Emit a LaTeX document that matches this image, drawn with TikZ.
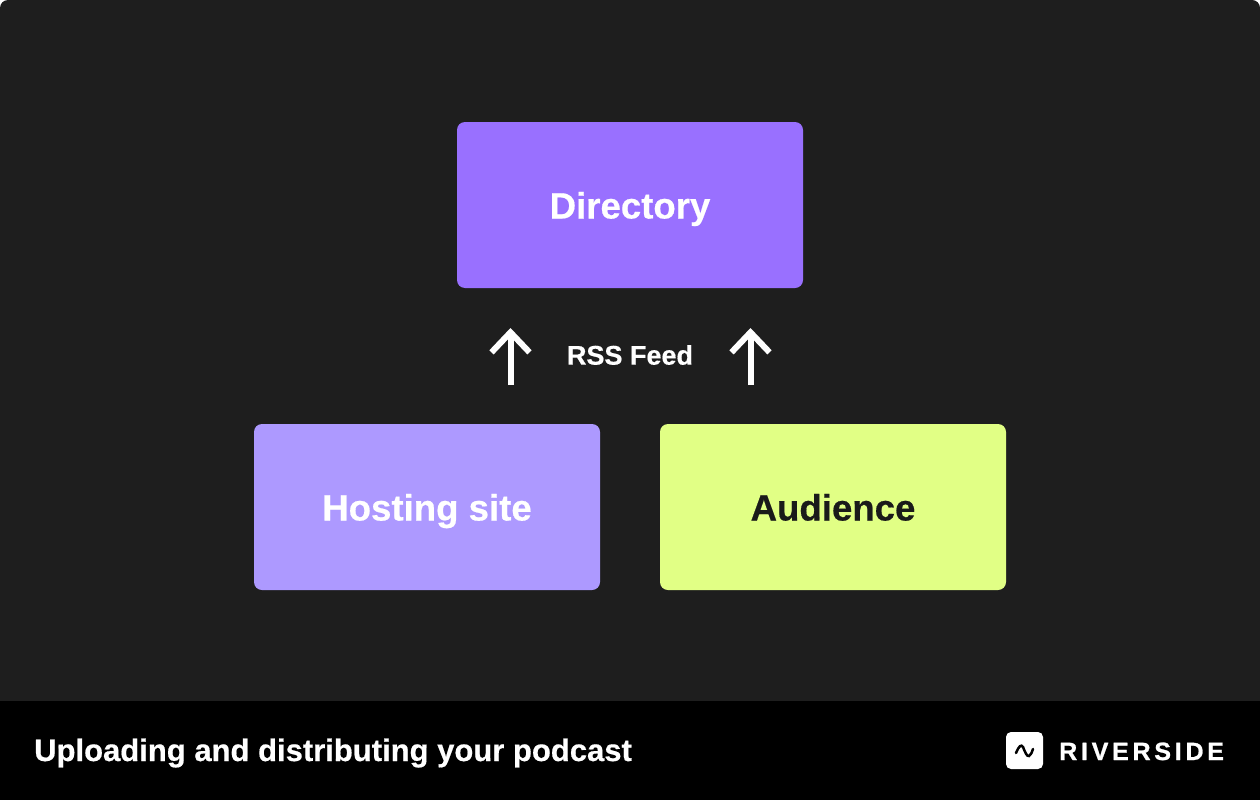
\documentclass[tikz,border=0pt]{standalone}
\usepackage{fontspec}
\setmainfont[BoldFeatures={FakeBold=0.5}]{Liberation Sans}
\newfontfamily\logofont[BoldFeatures={FakeBold=1,LetterSpace=15}]{Liberation Sans}
\usetikzlibrary{arrows.meta}
\definecolor{bgdark}{HTML}{1E1E1E}
\definecolor{dirviolet}{HTML}{9970FF}
\definecolor{hostviolet}{HTML}{AD99FF}
\definecolor{audlime}{HTML}{E1FF85}
\definecolor{inkdark}{HTML}{1A1A1A}
\tikzset{
	box/.style={minimum width=346pt, minimum height=166pt, rounded corners=8pt, inner sep=0pt,
		text height=27pt, text depth=0pt, font=\fontsize{36.6}{40}\selectfont\bfseries},
	upflow/.style={draw=white, line width=6pt, -{Straight Barb[length=20pt, width=38pt, line width=6pt]}}
}

\begin{document}
\begin{tikzpicture}[x=1pt, y=-1pt]
	
	\useasboundingbox (0,0) rectangle (1260,800);
	\fill[white] (0,0) rectangle (1260,800);
	\fill[bgdark, rounded corners=8pt] (0,0) rectangle (1260,720);
	\fill[black] (0,701) rectangle (1260,800);
	
	\node[box, fill=dirviolet, text=white] (Directory) at (630,205) {Directory};
	\node[box, fill=hostviolet, text=white] (Hosting) at (427,507) {Hosting site};
	\node[box, fill=audlime, text=inkdark] (Audience) at (833,507) {Audience};
	
	\node[text=white, font=\fontsize{27}{30}\selectfont\bfseries] (Feed) at (630,355) {RSS Feed};
	\coordinate (HostStart) at (510.5,385);
	\coordinate (HostEnd) at (510.5,328);
	\coordinate (AudStart) at (750.5,385);
	\coordinate (AudEnd) at (750.5,328);
	\draw[upflow] (HostStart) -- (HostEnd);
	\draw[upflow] (AudStart) -- (AudEnd);
	
	\node[anchor=base west, inner sep=0pt, text=white, font=\fontsize{31}{34}\selectfont\bfseries] (Caption) at (34,761) {Uploading and distributing your podcast};
	
	\node[fill=white, minimum size=37pt, rounded corners=5pt, inner sep=0pt] (Logo) at (1024.5,750.5) {};
	\draw[black, line width=2.5pt, line cap=round] (1016,753) .. controls (1019,746) and (1021,744) .. (1023,747) .. controls (1025,752) and (1027,757) .. (1029,756) .. controls (1031,755) and (1032,752) .. (1033,749);
	\node[anchor=base west, inner sep=0pt, text=white, font=\fontsize{25}{30}\logofont\bfseries] (Brand) at (1059,760) {RIVERSIDE};
	
\end{tikzpicture}
\end{document}
